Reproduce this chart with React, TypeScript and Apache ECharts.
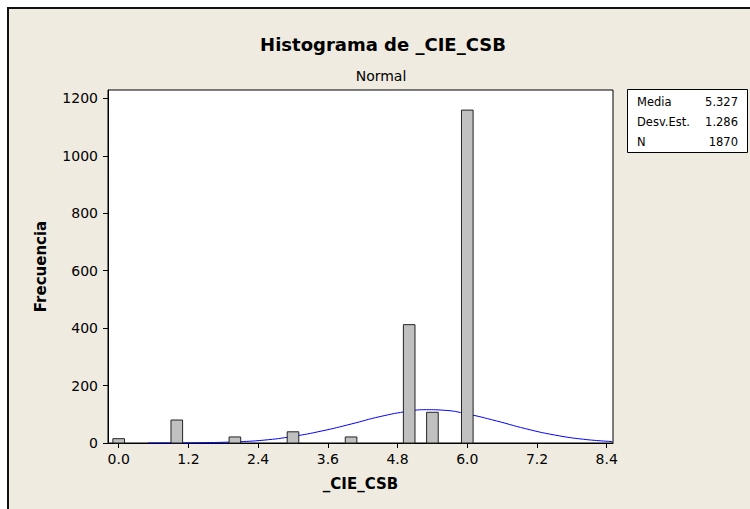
import React, { useEffect, useRef } from "react";
import * as echarts from "echarts";

// Histogram bins (centers) and counts
const binCenters = [0.0, 1.0, 2.0, 3.0, 4.0, 5.0, 5.4, 6.0];
const frequencies = [15, 80, 21, 39, 21, 412, 107, 1159];
const binWidth = 0.2;

// Fitted normal curve
const curveX = [0.5, 1.0, 1.5, 2.0, 2.5, 3.0, 3.5, 4.0, 4.5, 5.0, 5.3, 5.6, 6.0, 6.5, 7.0, 7.5, 8.0, 8.5];
const curveY = [0, 0.3, 1.3, 4, 10, 23, 42, 66, 92, 111, 116, 114, 101, 77, 50, 28, 13, 5];

// Axis ticks
const xTickValues = [0, 1.2, 2.4, 3.6, 4.8, 6.0, 7.2, 8.4];
const xTickLabels = ["0.0", "1.2", "2.4", "3.6", "4.8", "6.0", "7.2", "8.4"];
const yTickValues = [0, 200, 400, 600, 800, 1000, 1200];
const yTickLabels = ["0", "200", "400", "600", "800", "1000", "1200"];

// Stats box
const statLabels = ["Media", "Desv.Est.", "N"];
const statValues = ["5.327", "1.286", "1870"];

const titleText = "Histograma de _CIE_CSB";
const subtitleText = "Normal";
const xName = "_CIE_CSB";
const yName = "Frecuencia";

const FONT = 'Tahoma, "DejaVu Sans", sans-serif';

export default function App() {
  const ref = useRef<HTMLDivElement>(null);

  useEffect(() => {
    if (!ref.current) return;
    const chart = echarts.init(ref.current, undefined, { renderer: "svg" });

    const barData = binCenters.map((c, i) => [c, frequencies[i]]);
    const curveData = curveX.map((x, i) => [x, curveY[i]]);

    const statGraphics: any[] = [];
    const rowY = [102, 122, 142];
    statLabels.forEach((lab, i) => {
      statGraphics.push({
        type: "text",
        x: 637,
        y: rowY[i],
        style: { text: lab, fontSize: 11.5, fontFamily: FONT, fill: "#000", textAlign: "left", textVerticalAlign: "middle" },
      });
      statGraphics.push({
        type: "text",
        x: 738,
        y: rowY[i],
        style: { text: statValues[i], fontSize: 11.5, fontFamily: FONT, fill: "#000", textAlign: "right", textVerticalAlign: "middle" },
      });
    });

    chart.setOption({
      animation: false,
      backgroundColor: "transparent",
      textStyle: { fontFamily: FONT },
      grid: {
        left: 108,
        top: 90,
        width: 505,
        height: 353,
        show: true,
        backgroundColor: "#ffffff",
        borderColor: "#000",
        borderWidth: 1,
      },
      xAxis: {
        type: "value",
        min: -0.184,
        max: 8.508,
        axisLine: { show: true, onZero: false, lineStyle: { color: "#000", width: 1 } },
        axisTick: { show: true, length: 5, customValues: xTickValues, lineStyle: { color: "#000" } },
        axisLabel: {
          customValues: xTickValues,
          formatter: (v: number) => xTickLabels[xTickValues.indexOf(v)] ?? "",
          fontSize: 14,
          color: "#000",
          margin: 9,
          fontFamily: FONT,
        },
        splitLine: { show: false },
        name: xName,
        nameLocation: "middle",
        nameGap: 33,
        nameTextStyle: { fontWeight: "bold", fontSize: 15, color: "#000", fontFamily: FONT },
      },
      yAxis: {
        type: "value",
        min: 0,
        max: 1229,
        axisLine: { show: true, onZero: false, lineStyle: { color: "#000", width: 1 } },
        axisTick: { show: true, length: 5, customValues: yTickValues, lineStyle: { color: "#000" } },
        axisLabel: {
          customValues: yTickValues,
          formatter: (v: number) => yTickLabels[yTickValues.indexOf(v)] ?? "",
          fontSize: 14,
          color: "#000",
          margin: 10,
          fontFamily: FONT,
        },
        splitLine: { show: false },
        name: yName,
        nameLocation: "middle",
        nameGap: 60,
        nameTextStyle: { fontWeight: "bold", fontSize: 15, color: "#000", fontFamily: FONT },
      },
      graphic: [
        {
          type: "text",
          x: 383,
          y: 44,
          style: { text: titleText, fontSize: 18, fontWeight: "bold", fontFamily: FONT, fill: "#000", textAlign: "center", textVerticalAlign: "middle" },
        },
        {
          type: "text",
          x: 381,
          y: 76,
          style: { text: subtitleText, fontSize: 14, fontFamily: FONT, fill: "#000", textAlign: "center", textVerticalAlign: "middle" },
        },
        {
          type: "rect",
          shape: { x: 627.5, y: 89.5, width: 120, height: 63 },
          style: { fill: "#ffffff", stroke: "#000", lineWidth: 1 },
        },
        ...statGraphics,
      ],
      series: [
        {
          type: "line",
          data: curveData,
          smooth: true,
          showSymbol: false,
          symbol: "none",
          lineStyle: { color: "#0000FF", width: 1 },
          z: 1,
        },
        {
          type: "custom",
          data: barData,
          encode: { x: 0, y: 1 },
          z: 3,
          renderItem: (params: any, api: any) => {
            const x = api.value(0);
            const y = api.value(1);
            const p0 = api.coord([x - binWidth / 2, y]);
            const p1 = api.coord([x + binWidth / 2, 0]);
            return {
              type: "rect",
              shape: { x: p0[0], y: p0[1], width: p1[0] - p0[0], height: p1[1] - p0[1] },
              style: { fill: "#C0C0C0", stroke: "#222", lineWidth: 1 },
            };
          },
        },
      ],
    });

    return () => chart.dispose();
  }, []);

  return (
    <div style={{ position: "fixed", left: 0, top: 0, width: 750, height: 509, overflow: "hidden", background: "#ffffff" }}>
      <div
        style={{
          position: "absolute",
          left: 7,
          top: 7,
          width: 800,
          height: 600,
          background: "#EFEBE1",
          borderLeft: "2px solid #111",
          borderTop: "2px solid #111",
        }}
      />
      <div ref={ref} style={{ position: "absolute", left: 0, top: 0, width: 750, height: 509 }} />
    </div>
  );
}
